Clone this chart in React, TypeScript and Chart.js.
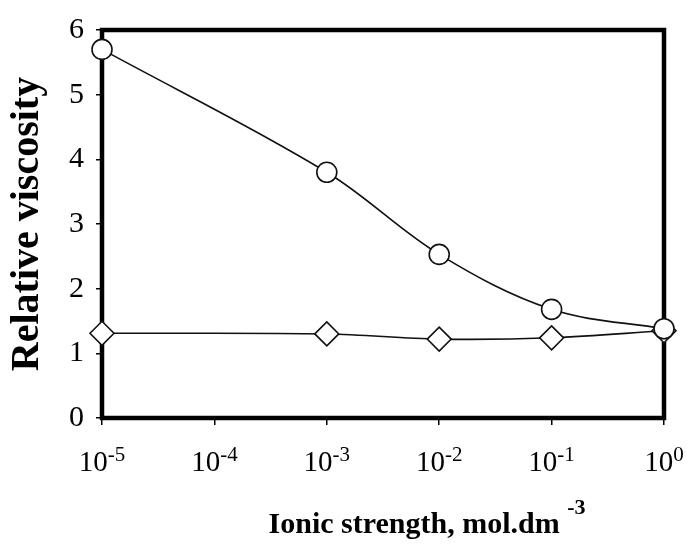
import React, { useEffect, useRef } from 'react';
import { Chart, registerables } from 'chart.js';

Chart.register(...registerables);

const ionicStrength = [1e-5, 1e-3, 1e-2, 1e-1, 1];
const circleSeries = [5.7, 3.8, 2.53, 1.68, 1.38];
const diamondSeries = [1.31, 1.3, 1.22, 1.24, 1.35];
const xTickValues = [1e-5, 1e-4, 1e-3, 1e-2, 1e-1, 1];
const xTickExponents = ['-5', '-4', '-3', '-2', '-1', '0'];
const yTickValues = [0, 1, 2, 3, 4, 5, 6];
const xTitleMain = 'Ionic strength, mol.dm';
const xTitleSup = '-3';
const yTitle = 'Relative viscosity';

const FONT = "'Liberation Serif', 'Times New Roman', serif";

const framePlugin = {
  id: 'frame',
  beforeDatasetsDraw(chart: any) {
    const { ctx, chartArea } = chart;
    ctx.save();
    ctx.strokeStyle = '#000';
    ctx.lineWidth = 4.5;
    ctx.strokeRect(chartArea.left, chartArea.top, chartArea.right - chartArea.left, chartArea.bottom - chartArea.top);
    ctx.restore();
  },
};

const labelsPlugin = {
  id: 'xlabels',
  afterDraw(chart: any) {
    const { ctx, chartArea } = chart;
    const xs = chart.scales.x;
    ctx.save();
    ctx.fillStyle = '#000';
    ctx.textBaseline = 'alphabetic';
    ctx.textAlign = 'left';
    const baseFont = `29px ${FONT}`;
    const supFont = `21px ${FONT}`;
    const base = chartArea.bottom + 53;
    xTickValues.forEach((v, i) => {
      const x = xs.getPixelForValue(v);
      ctx.font = baseFont;
      const w1 = ctx.measureText('10').width;
      ctx.font = supFont;
      const w2 = ctx.measureText(xTickExponents[i]).width;
      const start = x - (w1 + w2) / 2;
      ctx.font = baseFont;
      ctx.fillText('10', start, base);
      ctx.font = supFont;
      ctx.fillText(xTickExponents[i], start + w1, base - 10);
    });
    // x title
    const tFont = `bold 30px ${FONT}`;
    const tSup = `bold 22px ${FONT}`;
    ctx.font = tFont;
    const tw1 = ctx.measureText(xTitleMain + ' ').width;
    ctx.font = tSup;
    const tw2 = ctx.measureText(xTitleSup).width;
    const cx = (chartArea.left + chartArea.right) / 2 + 44;
    const tStart = cx - (tw1 + tw2) / 2;
    const tBase = chartArea.bottom + 115;
    ctx.font = tFont;
    ctx.fillText(xTitleMain + ' ', tStart, tBase);
    ctx.font = tSup;
    ctx.fillText(xTitleSup, tStart + tw1, tBase - 19);
    ctx.restore();
  },
};

export default function App() {
  const ref = useRef<HTMLCanvasElement>(null);
  useEffect(() => {
    if (!ref.current) return;
    const chart = new Chart(ref.current, {
      type: 'line',
      data: {
        datasets: [
          {
            label: 'circles',
            data: ionicStrength.map((x, i) => ({ x, y: circleSeries[i] })),
            borderColor: '#111',
            borderWidth: 1.6,
            tension: 0.35,
            pointStyle: 'circle',
            pointRadius: 10,
            pointBackgroundColor: '#fff',
            pointBorderColor: '#111',
            pointBorderWidth: 1.6,
            clip: false as any,
          },
          {
            label: 'diamonds',
            data: ionicStrength.map((x, i) => ({ x, y: diamondSeries[i] })),
            borderColor: '#111',
            borderWidth: 1.6,
            tension: 0.35,
            pointStyle: 'rectRot',
            pointRadius: 12,
            pointBackgroundColor: '#fff',
            pointBorderColor: '#111',
            pointBorderWidth: 1.6,
            clip: false as any,
          },
        ],
      },
      options: {
        animation: false,
        responsive: true,
        maintainAspectRatio: false,
        layout: { padding: { left: 0, right: 25, top: 22, bottom: 0 } },
        plugins: { legend: { display: false }, tooltip: { enabled: false } },
        scales: {
          x: {
            type: 'logarithmic',
            min: 1e-5,
            max: 1,
            afterBuildTicks: (scale: any) => {
              scale.ticks = xTickValues.map((v) => ({ value: v }));
            },
            afterFit: (scale: any) => {
              scale.height = 129;
            },
            ticks: { display: false },
            grid: { drawOnChartArea: false, drawTicks: true, tickLength: 7, color: '#000', lineWidth: 1.5 },
            border: { display: false },
          },
          y: {
            min: 0,
            max: 6,
            afterBuildTicks: (scale: any) => {
              scale.ticks = yTickValues.map((v) => ({ value: v }));
            },
            afterFit: (scale: any) => {
              scale.width = 102;
            },
            ticks: {
              color: '#000',
              font: { family: FONT, size: 30 },
              padding: 12,
            },
            grid: { drawOnChartArea: false, drawTicks: true, tickLength: 6, color: '#000', lineWidth: 1.5 },
            border: { display: false },
            title: {
              display: true,
              text: yTitle,
              color: '#000',
              font: { family: FONT, size: 40, weight: 'bold' },
              padding: { top: 4, bottom: 0 },
            },
          },
        },
      },
      plugins: [framePlugin, labelsPlugin],
    } as any);
    return () => chart.destroy();
  }, []);
  return (
    <div style={{ position: 'fixed', left: 0, top: 0, width: 689, height: 547, background: '#fff' }}>
      <canvas ref={ref} />
    </div>
  );
}
